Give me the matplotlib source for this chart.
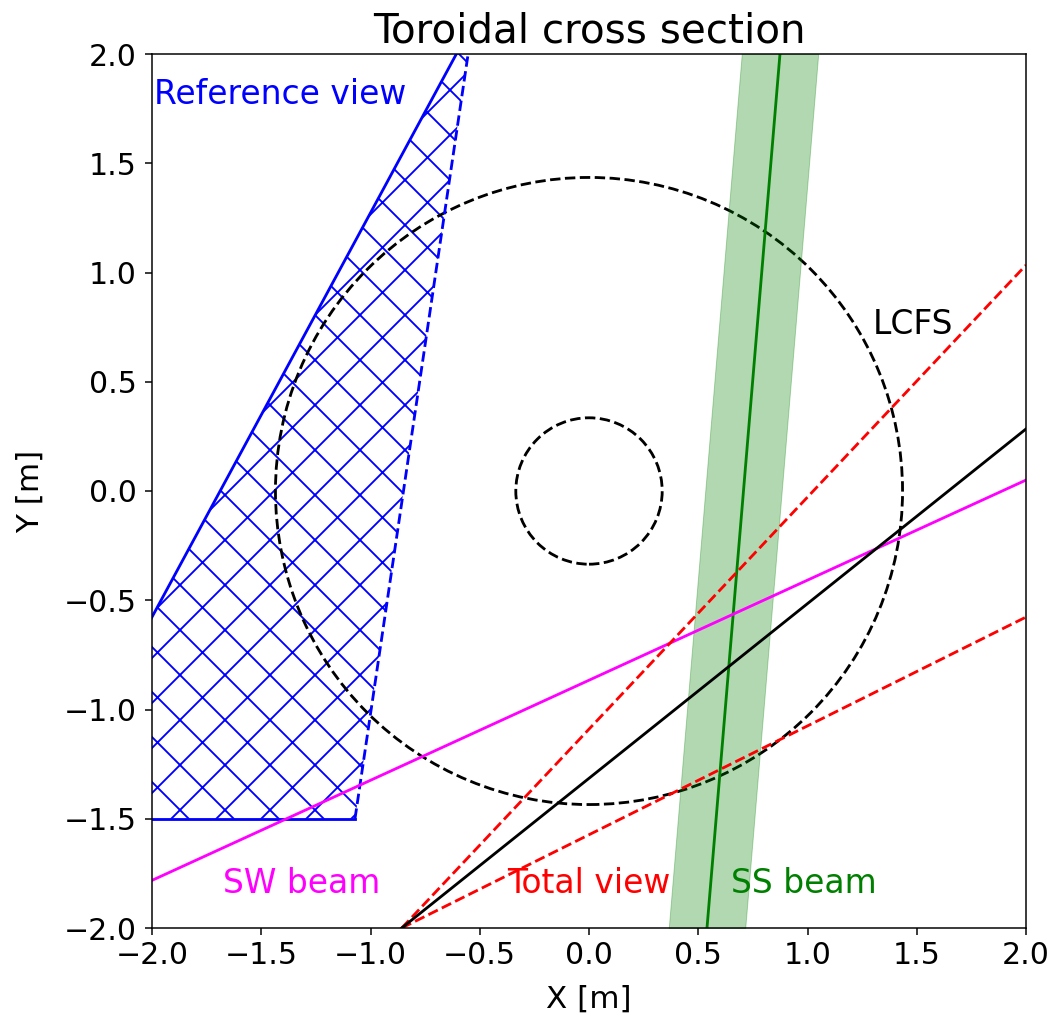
import numpy as np
import matplotlib
matplotlib.use("Agg")
import matplotlib.pyplot as plt
from matplotlib.patches import Circle, Polygon

# geometry (metres)
lcfs_radius = 1.435
inner_radius = 0.335

view_apex = [-0.857, -2.0]              # total view origin
total_view_edge_y = [1.034, -0.577]     # y of the two view edges at x = 2
central_view_y = 0.284                  # y of central sightline at x = 2

sw_beam_x = [-2.0, 2.0]
sw_beam_y = [-1.782, 0.050]

ss_beam_x = [0.540, 0.874]
ss_beam_y = [-2.0, 2.0]
ss_beam_half_width = 0.175

ref_view_x = [-0.533, -2.499, -1.071]   # apex, bottom-left, bottom-right
ref_view_y = [2.137, -1.5, -1.5]

xlim = [-2.0, 2.0]
ylim = [-2.0, 2.0]

DPI = 135
plt.rcParams['font.family'] = 'DejaVu Sans'
plt.rcParams['xtick.labelsize'] = 16
plt.rcParams['ytick.labelsize'] = 16

fig = plt.figure(figsize=(1058 / DPI, 1014 / DPI), dpi=DPI)
ax = fig.add_axes([152 / 1058, 86 / 1014, 874 / 1058, 874 / 1014])

# reference view (hatched)
ref = Polygon(list(zip(ref_view_x, ref_view_y)), closed=True, fill=False,
              hatch='x', edgecolor='b', linewidth=0)
ax.add_patch(ref)
ax.plot([ref_view_x[0], ref_view_x[1]], [ref_view_y[0], ref_view_y[1]], color='b')
ax.plot([ref_view_x[1], ref_view_x[2]], [ref_view_y[1], ref_view_y[2]], color='b')
ax.plot([ref_view_x[2], ref_view_x[0]], [ref_view_y[2], ref_view_y[0]], color='b', ls='--')

# flux surfaces
ax.add_patch(Circle((0, 0), lcfs_radius, fill=False, ls='--', color='k', lw=1.5))
ax.add_patch(Circle((0, 0), inner_radius, fill=False, ls='--', color='k', lw=1.5))

# SS beam
yy = np.array(ss_beam_y)
xc = np.array(ss_beam_x)
ax.fill_betweenx(yy, xc - ss_beam_half_width, xc + ss_beam_half_width,
                 color='g', alpha=0.3, lw=0.5)
ax.plot(ss_beam_x, ss_beam_y, color='g')

# SW beam
ax.plot(sw_beam_x, sw_beam_y, color='magenta')

# total view
for ye in total_view_edge_y:
    ax.plot([view_apex[0], 2.0], [view_apex[1], ye], color='r', ls='--')
ax.plot([view_apex[0], 2.0], [view_apex[1], central_view_y], color='k')

fs_txt = 17.5
ax.text(-1.99, 1.77, 'Reference view', color='b', fontsize=fs_txt, ha='left', va='baseline')
ax.text(1.30, 0.72, 'LCFS', color='k', fontsize=fs_txt, ha='left', va='baseline')
ax.text(-1.675, -1.84, 'SW beam', color='magenta', fontsize=fs_txt, ha='left', va='baseline')
ax.text(-0.375, -1.84, 'Total view', color='r', fontsize=fs_txt, ha='left', va='baseline')
ax.text(0.650, -1.84, 'SS beam', color='g', fontsize=fs_txt, ha='left', va='baseline')

ax.set_xlim(xlim)
ax.set_ylim(ylim)
ax.set_xticks(np.arange(-2.0, 2.01, 0.5))
ax.set_yticks(np.arange(-2.0, 2.01, 0.5))
ax.tick_params(axis='y', pad=4.5)

ax.set_xlabel('X [m]', fontsize=16.5, labelpad=7.5)
ax.set_ylabel('Y [m]', fontsize=16.5, labelpad=10)
ax.set_title('Toroidal cross section', fontsize=21.6)

fig.savefig('out.png', dpi=DPI)
